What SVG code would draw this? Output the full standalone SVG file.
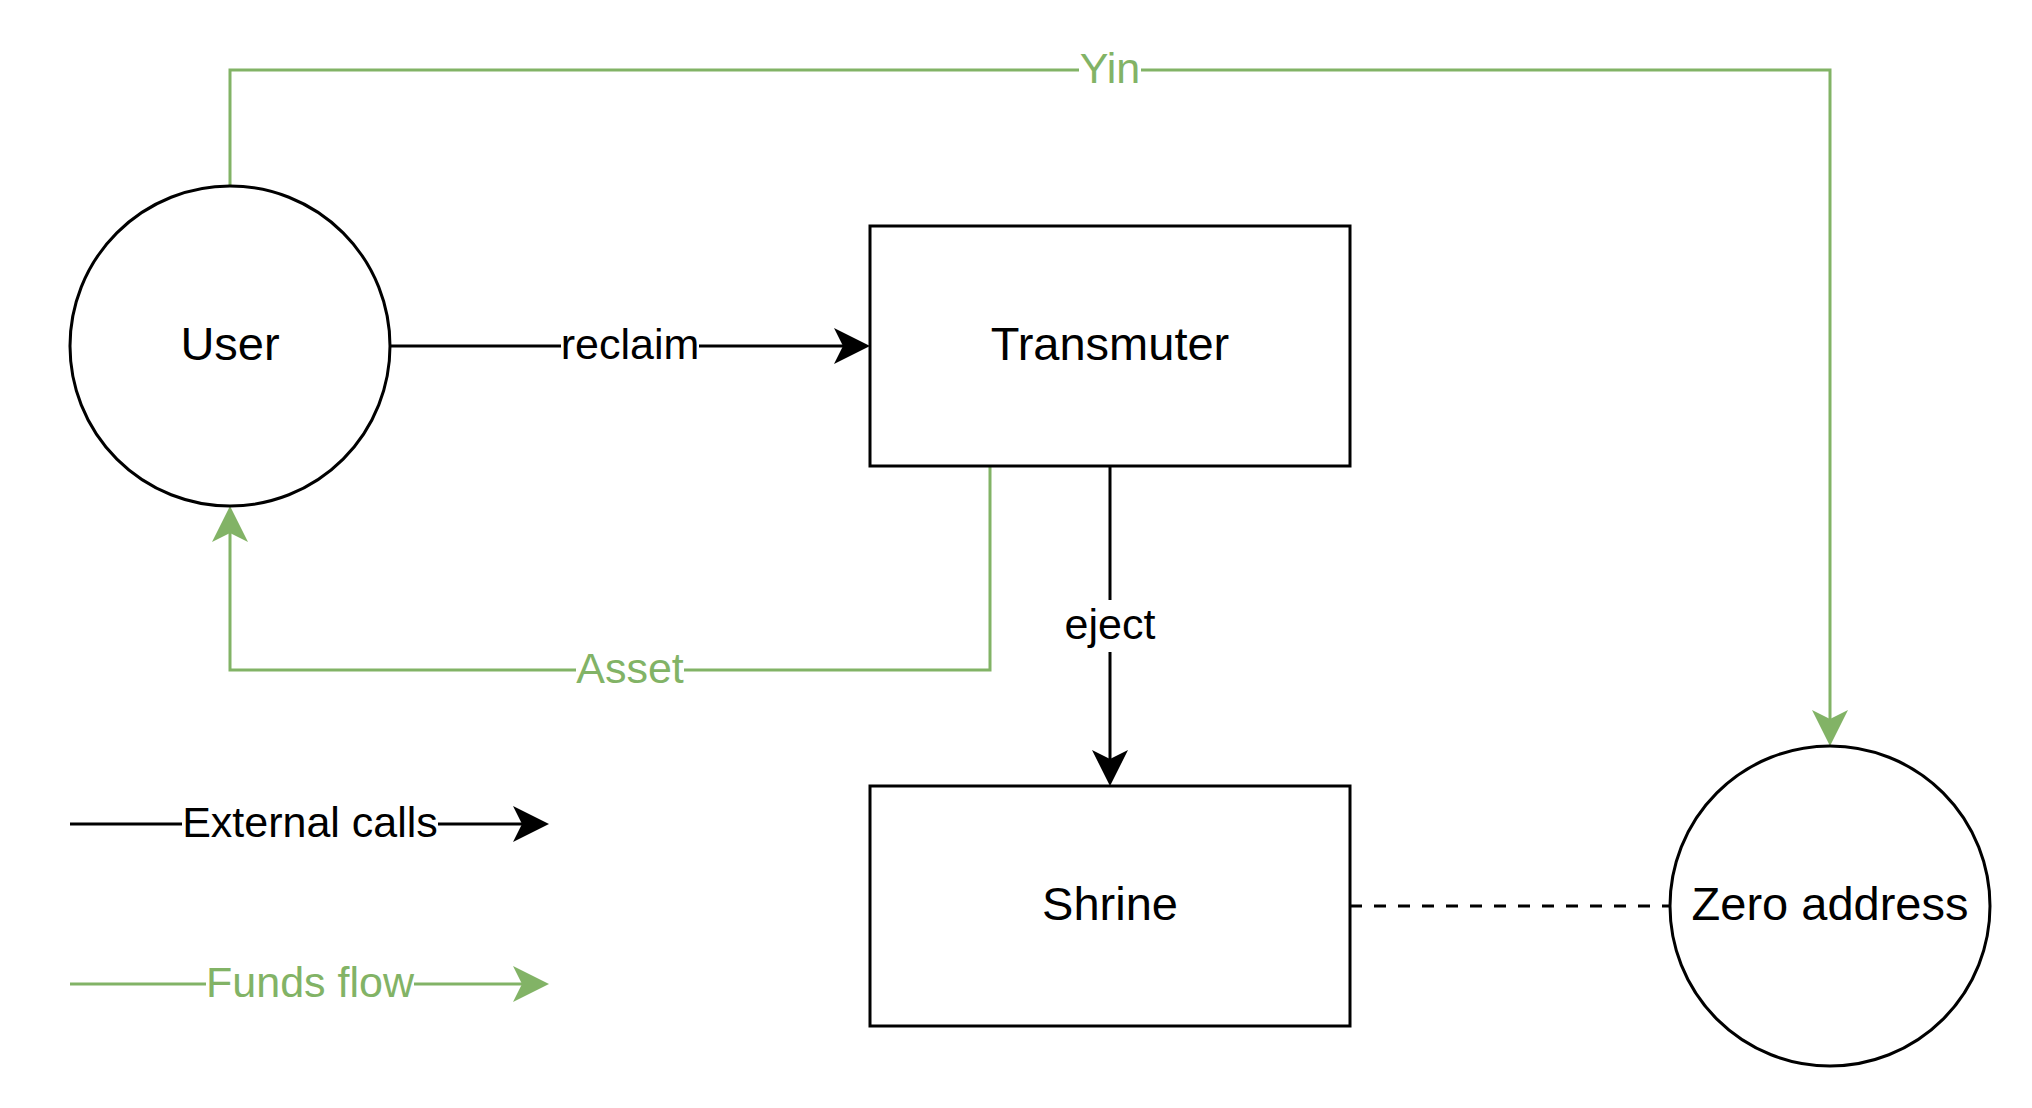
<svg xmlns="http://www.w3.org/2000/svg" width="2032" height="1108" viewBox="0 0 2032 1108">
  <style>
    .node { fill: #ffffff; stroke: #000000; stroke-width: 3; }
    .ntext { font-family: "Liberation Sans", Arial, sans-serif; font-size: 47px; fill: #000000; text-anchor: middle; }
    .ltext { font-family: "Liberation Sans", Arial, sans-serif; font-size: 43px; text-anchor: middle; }
    .black { fill: none; stroke: #000000; stroke-width: 3; }
    .green { fill: none; stroke: #82b366; stroke-width: 3; }
    .dash { fill: none; stroke: #000000; stroke-width: 3; stroke-dasharray: 12 12; }
    .bg { fill: #ffffff; stroke: none; }
    .tb { fill: #000000; }
    .tg { fill: #82b366; }
  </style>
  <defs>
    <marker id="arrBlack" viewBox="0 0 36 36" refX="9" refY="18" markerWidth="36" markerHeight="36" markerUnits="userSpaceOnUse" orient="auto">
      <path d="M0,0 L36,18 L0,36 L9,18 Z" fill="#000000"/>
    </marker>
    <marker id="arrGreen" viewBox="0 0 36 36" refX="9" refY="18" markerWidth="36" markerHeight="36" markerUnits="userSpaceOnUse" orient="auto">
      <path d="M0,0 L36,18 L0,36 L9,18 Z" fill="#82b366"/>
    </marker>
  </defs>
  <rect width="2032" height="1108" fill="#ffffff"/>

  <g id="connectors">
    <!-- Yin: User -> Zero address -->
    <path class="green" d="M230,186 L230,70 L1830,70 L1830,719" marker-end="url(#arrGreen)"/>
    <rect class="bg" x="1079" y="44" width="62" height="52"/>
    <text class="ltext tg" x="1110" y="83">Yin</text>

    <!-- reclaim: User -> Transmuter -->
    <path class="black" d="M390,346 L843,346" marker-end="url(#arrBlack)"/>
    <rect class="bg" x="561" y="320" width="138" height="52"/>
    <text class="ltext tb" x="630" y="359">reclaim</text>

    <!-- Asset: Transmuter -> User -->
    <path class="green" d="M990,466 L990,670 L230,670 L230,533" marker-end="url(#arrGreen)"/>
    <rect class="bg" x="576" y="644" width="108" height="52"/>
    <text class="ltext tg" x="630" y="683">Asset</text>

    <!-- eject: Transmuter -> Shrine -->
    <path class="black" d="M1110,466 L1110,759" marker-end="url(#arrBlack)"/>
    <rect class="bg" x="1064" y="600" width="92" height="52"/>
    <text class="ltext tb" x="1110" y="639">eject</text>

    <!-- Shrine - Zero address dashed -->
    <path class="dash" d="M1350,906 L1670,906"/>
  </g>

  <g id="legend-external">
    <path class="black" d="M70,824 L522,824" marker-end="url(#arrBlack)"/>
    <rect class="bg" x="182" y="798" width="256" height="52"/>
    <text class="ltext tb" x="310" y="837">External calls</text>
  </g>

  <g id="legend-funds">
    <path class="green" d="M70,984 L522,984" marker-end="url(#arrGreen)"/>
    <rect class="bg" x="206" y="958" width="208" height="52"/>
    <text class="ltext tg" x="310" y="997">Funds flow</text>
  </g>

  <g id="user">
    <circle class="node" cx="230" cy="346" r="160"/>
    <text class="ntext" x="230" y="360">User</text>
  </g>

  <g id="transmuter">
    <rect class="node" x="870" y="226" width="480" height="240"/>
    <text class="ntext" x="1110" y="360">Transmuter</text>
  </g>

  <g id="shrine">
    <rect class="node" x="870" y="786" width="480" height="240"/>
    <text class="ntext" x="1110" y="920">Shrine</text>
  </g>

  <g id="zero-address">
    <circle class="node" cx="1830" cy="906" r="160"/>
    <text class="ntext" x="1830" y="920">Zero address</text>
  </g>
</svg>
